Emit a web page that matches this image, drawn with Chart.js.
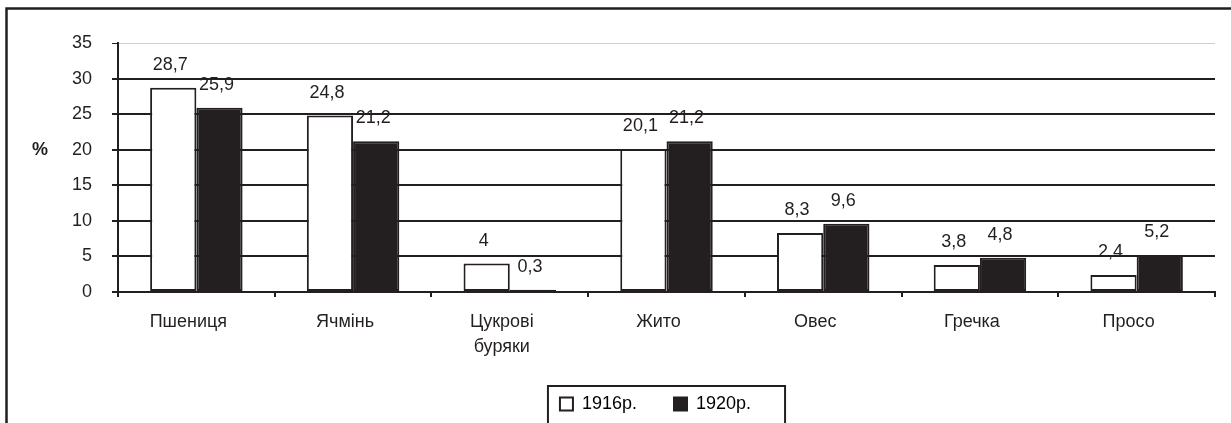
<!DOCTYPE html>
<html>
<head>
<meta charset="utf-8">
<script src="https://cdn.jsdelivr.net/npm/chart.js@4/dist/chart.umd.min.js"></script>
<style>
  html, body { margin: 0; padding: 0; background: #fff; }
  #wrap { width: 1231px; height: 423px; position: relative; }
</style>
</head>
<body>
<div id="wrap"><canvas id="chart"></canvas></div>
<script>
// culture shares, %
const crops = ['Пшениця', 'Ячмінь', ['Цукрові', 'буряки'], 'Жито', 'Овес', 'Гречка', 'Просо'];
const share1916 = [28.7, 24.8, 4, 20.1, 8.3, 3.8, 2.4];
const share1920 = [25.9, 21.2, 0.3, 21.2, 9.6, 4.8, 5.2];
const seriesNames = ['1916р.', '1920р.'];
const yTicks = [0, 5, 10, 15, 20, 25, 30, 35];

const ink = '#231f20';
const font = 'Liberation Sans, Arial, sans-serif';

// outer frame (only top and left edges fall inside the picture)
const framePlugin = {
  id: 'frame',
  afterUpdate(chart) {
    // legend sits a bit right of centre in the original
    const lg = chart.legend;
    lg.left += 48;
    lg.right += 48;
    lg.legendHitBoxes.forEach(b => { b.left += 48; });
  },
  beforeDraw(chart) {
    const c = chart.ctx;
    c.save();
    c.fillStyle = '#fff';
    c.fillRect(0, 0, chart.width, chart.height);
    c.strokeStyle = ink;
    c.lineWidth = 2.5;
    c.beginPath();
    c.moveTo(6.5, chart.height);
    c.lineTo(6.5, 8.5);
    c.lineTo(chart.width, 8.5);
    c.stroke();
    c.restore();
  },
  afterDraw(chart) {
    const c = chart.ctx;
    // "%" to the left of the y ticks
    const y = chart.scales.y.getPixelForValue(20);
    c.save();
    c.fillStyle = ink;
    c.font = 'bold 18px ' + font;
    c.textAlign = 'center';
    c.textBaseline = 'middle';
    c.fillText('%', 40, y);
    // box round the legend
    const boxes = chart.legend.legendHitBoxes;
    if (boxes && boxes.length) {
      const first = boxes[0], last = boxes[boxes.length - 1];
      const mid = first.top + first.height / 2;
      c.strokeStyle = ink;
      c.lineWidth = 2;
      c.strokeRect(first.left - 12, mid - 18, last.left + last.width - first.left + 46, 38);
    }
    c.restore();
  }
};

// value labels above bars
const valuePlugin = {
  id: 'values',
  afterDatasetsDraw(chart) {
    const c = chart.ctx;
    c.save();
    c.fillStyle = ink;
    c.font = '18px ' + font;
    c.textAlign = 'center';
    c.textBaseline = 'middle';
    chart.data.datasets.forEach((ds, i) => {
      chart.getDatasetMeta(i).data.forEach((bar, j) => {
        c.fillText(String(ds.data[j]).replace('.', ','), bar.x - 3, bar.y - 23);
      });
    });
    c.restore();
  }
};

new Chart(document.getElementById('chart').getContext('2d'), {
  type: 'bar',
  data: {
    labels: crops,
    datasets: [{
      label: seriesNames[0],
      data: share1916,
      backgroundColor: '#fff',
      borderColor: ink,
      borderWidth: 2,
      borderSkipped: false
    }, {
      label: seriesNames[1],
      data: share1920,
      backgroundColor: ink,
      borderColor: ink,
      borderWidth: 2,
      borderSkipped: false
    }]
  },
  options: {
    responsive: true,
    maintainAspectRatio: false,
    animation: false,
    layout: { padding: { top: 43, right: 16, bottom: 0, left: 0 } },
    datasets: { bar: { barPercentage: 1, categoryPercentage: 0.59 } },
    scales: {
      x: {
        grid: { offset: true, drawOnChartArea: false, drawTicks: true, tickLength: 5, lineWidth: 2, color: ink },
        border: { color: ink, width: 2 },
        ticks: { color: ink, font: { family: font, size: 18, lineHeight: 1.4 }, padding: 12, maxRotation: 0, labelOffset: -8 },
        afterFit(scale) { scale.height = 66; }
      },
      y: {
        min: 0,
        max: 35,
        afterBuildTicks(scale) { scale.ticks = yTicks.map(v => ({ value: v })); },
        grid: {
          color: ctx => ctx.tick && ctx.tick.value === 35 ? '#cfcfcf' : ink,
          lineWidth: ctx => ctx.tick && ctx.tick.value === 35 ? 1 : 2,
          tickColor: ink,
          tickLength: 6
        },
        border: { color: ink, width: 2 },
        ticks: { color: ink, font: { family: font, size: 18 }, padding: 20 },
        afterFit(scale) { scale.width = 118; }
      }
    },
    plugins: {
      legend: {
        position: 'bottom',
        labels: {
          color: ink,
          font: { family: font, size: 18 },
          boxWidth: 13,
          boxHeight: 13,
          padding: 37,
          generateLabels(chart) {
            return chart.data.datasets.map((ds, i) => ({
              text: ds.label,
              fillStyle: ds.backgroundColor,
              strokeStyle: ink,
              lineWidth: 2,
              datasetIndex: i
            }));
          }
        }
      },
      tooltip: { enabled: false }
    }
  },
  plugins: [framePlugin, valuePlugin]
});
</script>
</body>
</html>
